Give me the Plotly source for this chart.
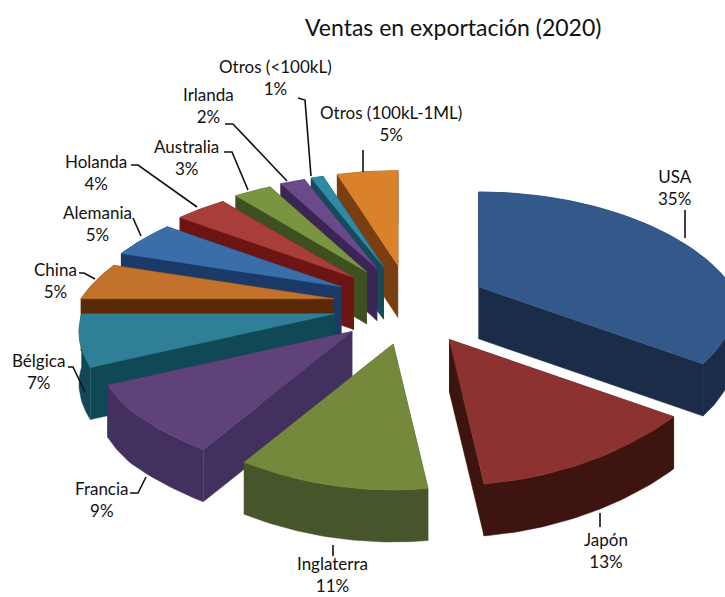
import numpy as np
import plotly.graph_objects as go

categories = ["USA", "Japón", "Inglaterra", "Francia", "Bélgica", "China", "Alemania",
              "Holanda", "Australia", "Irlanda", "Otros (&lt;100kL)", "Otros (100kL-1ML)"]
values = [35, 13, 11, 9, 7, 5, 5, 4, 3, 2, 1, 5]
top_colors = ["#33598a", "#8c3230", "#74893c", "#5f4279", "#2f7f97", "#c2722a", "#3a6ea8",
              "#a83e3a", "#7a9540", "#6a4a8a", "#2e8aa5", "#d9822b"]
side_colors = ["#1a2c48", "#3e1410", "#46562a", "#42315f", "#114856", "#5a2a08", "#1b3a68",
               "#6d1512", "#3e5020", "#3a2555", "#174a5a", "#7a3f10"]

label_pos = [(675, 187), (606, 550), (332, 574), (102, 499), (38, 371), (55, 280), (97, 223),
             (96, 172), (186, 157), (208, 105), (275, 77), (391, 123)]
leaders = ["M685 210 L685 238", "M600 513 L600 527", "M333 545 L333 556",
           "M130 493 L138 493 L146 477", "M68 367 L73 367 L85 392", "M79 273 L84 273 L95 279",
           "M133 218 L141 236", "M131 165 L138 165 L197 207", "M224 152 L232 152 L248 190",
           "M225 124 L233 124 L287 181", "M298 98 L305 100 L311 176", "M363 150 L363 172"]

CX, CY, EX, EY = 410, 305, 77, 40
RX, RY, PX_BACK, PX_FRONT, PY, H = 253, 115, 0.30, 0.15, 0.212, 52


def project(theta):
    X, Y = np.sin(theta), -np.cos(theta)
    denom = np.where(Y < 0, 1 - PX_BACK * Y, 1 - PX_FRONT * np.minimum(Y, 0.6))
    return RX * X / denom, RY * Y / (1 - PY * Y)


fig = go.Figure()


def poly(xs, ys, color):
    fig.add_trace(go.Scatter(x=xs, y=ys, mode="lines", fill="toself", fillcolor=color,
                             line=dict(color=color, width=0.5), hoverinfo="skip", showlegend=False))


edges = np.cumsum([0] + values) / sum(values) * 2 * np.pi
mids = (edges[:-1] + edges[1:]) / 2
order = sorted(range(len(values)), key=lambda i: -np.cos(mids[i]))

for i in order:
    a0, a1, m = edges[i], edges[i + 1], mids[i]
    ax = CX + EX * np.sin(m)
    ay = CY + EY * -np.cos(m)
    th = np.linspace(a0, a1, max(8, int(values[i] * 3)))
    dx, dy = project(th)
    rx, ry = ax + dx, ay + dy
    faces = [
        (ry[0] + ay, [ax, rx[0], rx[0], ax], [ay, ry[0], ry[0] + H, ay + H]),
        (ry[-1] + ay, [ax, rx[-1], rx[-1], ax], [ay, ry[-1], ry[-1] + H, ay + H]),
    ]
    faces.sort(key=lambda f: f[0])
    for _, fx, fy in faces:
        poly(fx, fy, side_colors[i])
    poly(np.r_[rx, rx[::-1]], np.r_[ry, ry[::-1] + H], side_colors[i])
    poly(np.r_[ax, rx, ax], np.r_[ay, ry, ay], top_colors[i])

annotations = [dict(x=p[0], y=p[1], xref="x", yref="y", showarrow=False, align="center",
                    text=f"{c}<br>{v}%", font=dict(family="Lato, Carlito, sans-serif", size=17, color="#111"))
               for c, v, p in zip(categories, values, label_pos)]
annotations.append(dict(x=453, y=27, xref="x", yref="y", showarrow=False,
                        text="Ventas en exportación (2020)",
                        font=dict(family="Lato, Carlito, sans-serif", size=23, color="#111")))

shapes = [dict(type="path", path=p, xref="x", yref="y", line=dict(color="#111", width=1.6)) for p in leaders]

fig.update_layout(
    width=725, height=597, margin=dict(l=0, r=0, t=0, b=0), autosize=False,
    paper_bgcolor="white", plot_bgcolor="white", showlegend=False,
    xaxis=dict(range=[0, 725], visible=False, fixedrange=True),
    yaxis=dict(range=[597, 0], visible=False, fixedrange=True),
    annotations=annotations, shapes=shapes,
)
fig.write_html("out.html", config={"displayModeBar": False},
               post_script="document.body.style.margin='0';document.documentElement.style.overflow='hidden';")
